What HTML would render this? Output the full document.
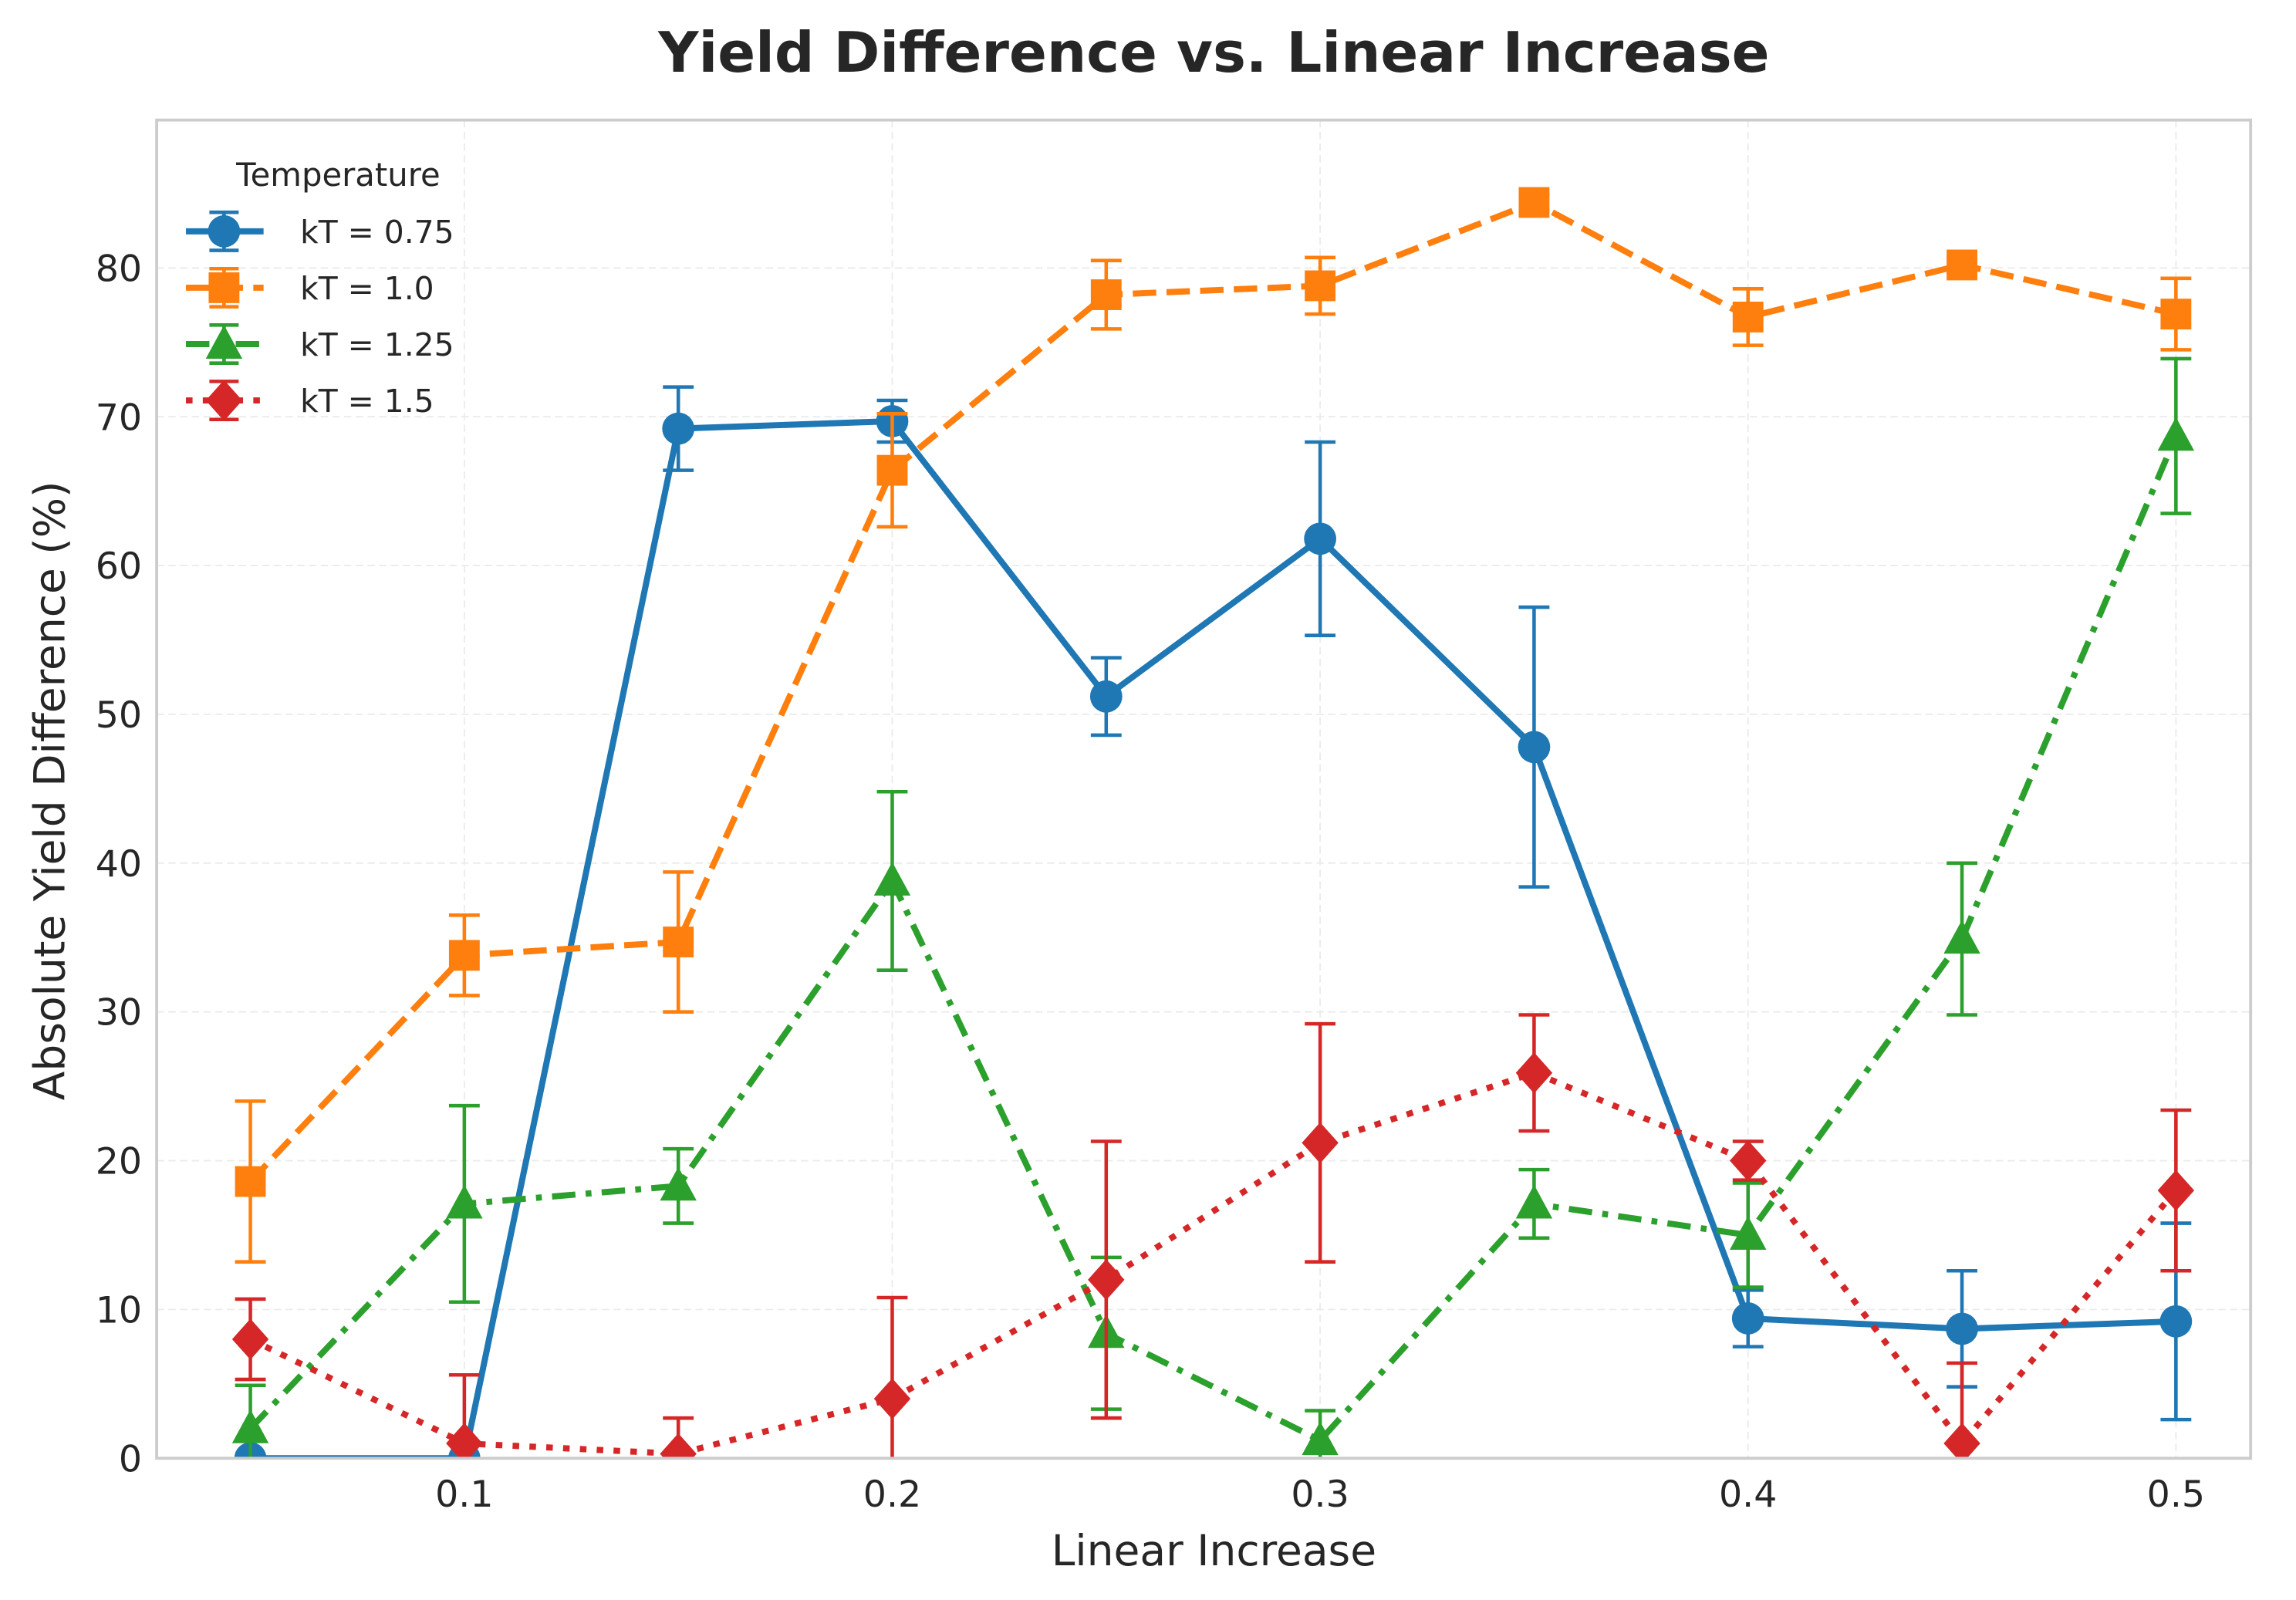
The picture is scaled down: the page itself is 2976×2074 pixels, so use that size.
<!DOCTYPE html>
<html><head><meta charset="utf-8"><style>
html,body{margin:0;padding:0;background:#fff;}
svg{display:block;font-family:"DejaVu Sans","Liberation Sans",sans-serif;}
</style></head><body>
<svg id="chart" width="2976" height="2074" viewBox="0 0 1568 1092.8" preserveAspectRatio="none" xmlns="http://www.w3.org/2000/svg">
<rect x="0" y="0" width="1568" height="1093" fill="#fff"/>
<text x="829" y="49" text-anchor="middle" font-size="38" font-weight="bold" fill="#262626">Yield Difference vs. Linear Increase</text>
<g id="grid"></g>
<g id="series" clip-path="url(#clip)"></g>
<defs><clipPath id="clip"><rect x="107" y="82" width="1430" height="914"/></clipPath></defs>
<rect x="107" y="82" width="1430" height="914" fill="none" stroke="#cccccc" stroke-width="2"/>
<g id="ticks"></g>
<text x="829" y="1069" text-anchor="middle" font-size="29" fill="#262626">Linear Increase</text>
<text transform="translate(44,540) rotate(-90)" text-anchor="middle" font-size="29" fill="#262626">Absolute Yield Difference (%)</text>
<g id="legend"></g>
</svg>
<script>
const xValues=[0.05,0.1,0.15,0.2,0.25,0.3,0.35,0.4,0.45,0.5];
const xTicks=[0.1,0.2,0.3,0.4,0.5];
const yTicks=[0,10,20,30,40,50,60,70,80];
const seriesLabels=["kT = 0.75","kT = 1.0","kT = 1.25","kT = 1.5"];
const kt075=[0,0,69.2,69.7,51.2,61.8,47.8,9.4,8.7,9.2];
const kt075Err=[0,0,2.8,1.4,2.6,6.5,9.4,1.9,3.9,6.6];
const kt100=[18.6,33.8,34.7,66.4,78.2,78.8,84.4,76.7,80.2,76.9];
const kt100Err=[5.4,2.7,4.7,3.8,2.3,1.9,0.5,1.9,0.5,2.4];
const kt125=[2.0,17.1,18.3,38.8,8.4,1.2,17.1,15.0,34.9,68.7];
const kt125Err=[2.9,6.6,2.5,6.0,5.1,2.0,2.3,3.5,5.1,5.2];
const kt150=[8.0,1.0,0.3,4.0,12.0,21.2,25.9,20.0,1.0,18.0];
const kt150Err=[2.7,4.6,2.4,6.8,9.3,8.0,3.9,1.3,5.4,5.4];

const NS="http://www.w3.org/2000/svg";
const X=v=>171+(v-0.05)/0.45*(1486-171);
const Y=v=>996-v*(996-183)/80;
function mk(tag,attrs,parent){const e=document.createElementNS(NS,tag);for(const k in attrs)e.setAttribute(k,attrs[k]);parent.appendChild(e);return e;}
const grid=document.getElementById('grid'),ticks=document.getElementById('ticks'),ser=document.getElementById('series'),leg=document.getElementById('legend');
xTicks.forEach(t=>{
  const g=mk('line',{x1:X(t),x2:X(t),y1:82,y2:996,stroke:'#ebebeb','stroke-width':1,'stroke-dasharray':'5,3'},grid);
  
  
  const l=mk('text',{x:X(t),y:1029,'text-anchor':'middle','font-size':25,fill:'#262626'},ticks);
  l.textContent=String(t);
  
  
});
yTicks.forEach(t=>{
  const g=mk('line',{x1:107,x2:1537,y1:Y(t),y2:Y(t),stroke:'#ebebeb','stroke-width':1,'stroke-dasharray':'5,3'},grid);
  
  
  const l=mk('text',{x:97,y:Y(t)+9,'text-anchor':'end','font-size':25,fill:'#262626'},ticks);
  l.textContent=String(t);
  
  
});
const defs=[
 {vals:kt075,err:kt075Err,color:'#1f77b4',dash:'',marker:'circle'},
 {vals:kt100,err:kt100Err,color:'#ff7f0e',dash:'16,7',marker:'square'},
 {vals:kt125,err:kt125Err,color:'#2ca02c',dash:'16,7,4,7',marker:'triangle'},
 {vals:kt150,err:kt150Err,color:'#d62728',dash:'4.5,7',marker:'diamond'}
];
function marker(type,cx,cy,color,parent){
  let e;
  if(type==='circle')e=mk('circle',{cx,cy,r:11,fill:color},parent);
  else if(type==='square')e=mk('rect',{x:cx-10.5,y:cy-10.5,width:21,height:21,fill:color},parent);
  else if(type==='triangle')e=mk('polygon',{points:`${cx},${cy-13} ${cx-12.5},${cy+10} ${cx+12.5},${cy+10}`,fill:color},parent);
  else e=mk('polygon',{points:`${cx},${cy-14} ${cx+12.5},${cy} ${cx},${cy+14} ${cx-12.5},${cy}`,fill:color},parent);
  return e;
}
defs.forEach((s,si)=>{
  const g=mk('g',{},ser);
  
  
  xValues.forEach((x,i)=>{
    const e=s.err[i];if(e<=0)return;
    const cx=X(x),y1=Y(s.vals[i]+e),y2=Y(s.vals[i]-e);
    const b=mk('path',{d:`M${cx},${y1}V${y2}M${cx-10.5},${y1}H${cx+10.5}M${cx-10.5},${y2}H${cx+10.5}`,stroke:s.color,'stroke-width':2.4,fill:'none'},g);
    
    
  });
  const d=xValues.map((x,i)=>(i?'L':'M')+X(x)+','+Y(s.vals[i])).join('');
  const p=mk('path',{d,stroke:s.color,'stroke-width':4.2,fill:'none','stroke-dasharray':s.dash},g);
  
  
  xValues.forEach((x,i)=>{
    const m=marker(s.marker,X(x),Y(s.vals[i]),s.color,g);
    
    
  });
  const ly=158+si*38.5;
  const le=mk('g',{},leg);
  
  
  mk('line',{x1:127,x2:180,y1:ly,y2:ly,stroke:s.color,'stroke-width':4.2,'stroke-dasharray':s.dash},le);
  mk('path',{d:`M153,${ly-13}V${ly+13}M143,${ly-13}H163M143,${ly+13}H163`,stroke:s.color,'stroke-width':2.4,fill:'none'},le);
  marker(s.marker,153,ly,s.color,le);
  const t=mk('text',{x:205,y:ly+8,'font-size':21.5,fill:'#262626'},le);
  t.textContent=seriesLabels[si];
});
const lt=mk('text',{x:231,y:127,'text-anchor':'middle','font-size':22,fill:'#262626'},leg);
lt.textContent='Temperature';


</script>
</body></html>
